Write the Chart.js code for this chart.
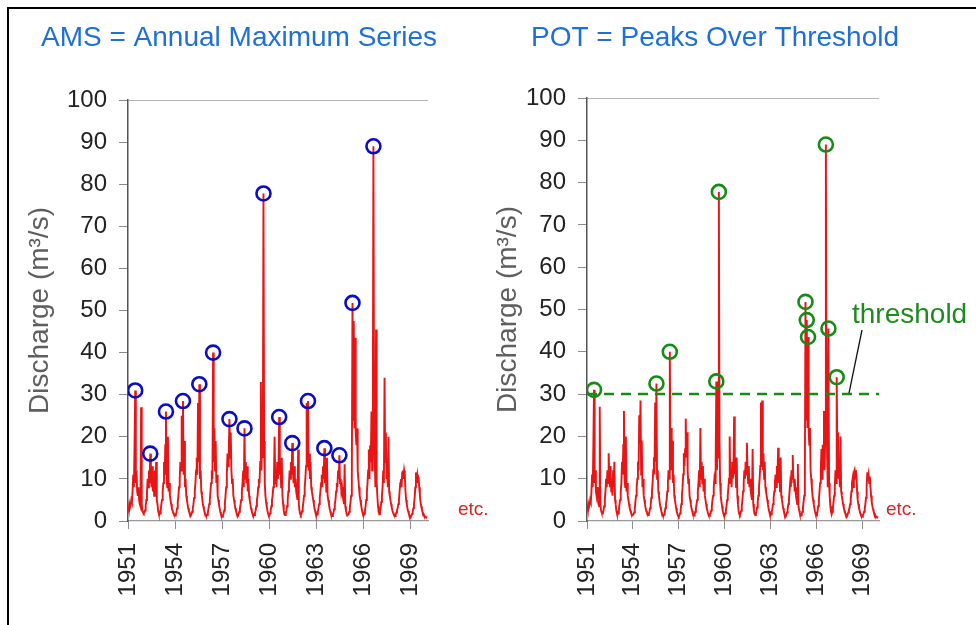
<!DOCTYPE html>
<html>
<head>
<meta charset="utf-8">
<script src="https://cdn.jsdelivr.net/npm/chart.js@4.4.1/dist/chart.umd.min.js"></script>
<style>
  html, body { margin: 0; padding: 0; background: #fff; overflow: hidden; }
  #wrap { position: relative; width: 976px; height: 625px; overflow: hidden; }
  #frame { position: absolute; left: 7px; top: 7px; width: 1000px; height: 1000px;
           border-left: 2.5px solid #000; border-top: 2.5px solid #000; }
  canvas { position: absolute; top: 0; }
  #ams { left: 0; }
  #pot { left: 488px; }
</style>
</head>
<body>
<div id="wrap">
  <div id="frame"></div>
  <canvas id="ams" width="488" height="625"></canvas>
  <canvas id="pot" width="488" height="625"></canvas>
</div>
<script>
const flow1951 = [3.5, 2.8, 4, 3.2, 3.8, 5, 4.5, 7, 11, 8, 18, 31, 9, 12, 7, 6, 8, 5, 4, 3.5, 27, 4, 2.5, 2];
const flow1952 = [1.8, 2, 2.5, 3.5, 5, 7, 10, 8, 12, 9, 16, 11, 8, 13, 7, 10, 6, 12, 8, 14, 5, 4, 2.5, 1.8];
const flow1953 = [1.5, 1.8, 2.5, 4, 5, 7, 9, 14, 11, 18, 26, 10, 8, 20, 7, 9, 6, 5, 4, 3, 2.5, 2, 1.6, 1.3];
const flow1954 = [1.3, 1.6, 2, 3, 4.5, 6, 8, 10, 14, 12, 25, 18, 28.5, 11, 19, 8, 10, 6, 5, 4, 3, 2.4, 2, 1.5];
const flow1955 = [1.4, 1.7, 2.2, 3, 4, 5.5, 7, 9, 12, 15, 11, 28, 14, 32.5, 10, 12, 7, 6, 4.5, 3.5, 2.8, 2.2, 1.7, 1.3];
const flow1956 = [1.2, 1.5, 2, 3, 4, 5, 7, 9, 12, 10, 40, 14, 22, 12, 19, 9, 11, 6, 5, 4, 3, 2.2, 1.6, 1.2];
const flow1957 = [1, 1.3, 1.8, 2.5, 4, 6, 8, 11, 16, 13, 17, 24.2, 15, 21, 12, 9, 10, 6, 5, 4, 3, 2.4, 1.8, 1.4];
const flow1958 = [1.3, 1.6, 2.2, 3, 4, 5, 7, 9, 12, 8, 22, 10, 14, 9, 13, 7, 10, 6, 5, 4, 3, 2.4, 1.8, 1.4];
const flow1959 = [1.2, 1.4, 1.8, 2.5, 3.5, 5, 6, 8, 10, 9, 14, 33, 12, 20, 15, 77.8, 19, 9, 6, 4.5, 3.5, 2.5, 1.8, 1.3];
const flow1960 = [1.3, 1.8, 2.5, 3.5, 5, 6, 8, 10, 20, 9, 12, 8, 14, 10, 13, 24.7, 11, 14, 8, 15, 6, 4, 2.5, 1.6];
const flow1961 = [1.4, 1.8, 2.4, 3.5, 5, 7, 9, 12, 10, 14, 11, 18.5, 12, 9, 13, 8, 10, 7, 6, 5, 17, 4, 2.5, 1.7];
const flow1962 = [1.4, 1.7, 2.3, 3.2, 4.5, 6, 8, 10, 13, 28, 15, 28.5, 12, 16, 10, 14, 8, 7, 6, 5, 4, 3, 2.3, 1.6];
const flow1963 = [1.3, 1.6, 2.1, 3, 4, 5.5, 7, 9, 11, 8, 13, 10, 17.3, 9, 14, 7, 15, 6, 5, 4, 3, 2.3, 1.7, 1.3];
const flow1964 = [1.2, 1.5, 2, 2.8, 4, 5, 7, 9, 8, 12, 10, 15.6, 9, 10, 7, 8, 6, 5, 4, 13.5, 3.5, 2.5, 1.8, 1.3];
const flow1965 = [1.3, 1.6, 2.2, 3.2, 4.5, 6, 10, 51.8, 24, 47.5, 22, 43.5, 21, 18, 22, 12, 10, 8, 6, 5, 4, 3, 2.2, 1.6];
const flow1966 = [1.3, 1.7, 2.4, 3.5, 5, 7, 9, 12, 17, 10, 18, 14, 26, 12, 20, 89, 28, 15, 8, 45.5, 9, 6, 3.5, 2.2];
const flow1967 = [1.6, 2.2, 3, 4.5, 6, 8, 12, 9, 34, 14, 21, 10, 12, 8, 20, 7, 6, 5, 4, 3.2, 2.5, 2, 1.6, 1.3];
const flow1968 = [1.2, 1.5, 2, 2.5, 3, 4, 5, 7, 9, 10, 8, 11.5, 12, 10, 12, 11, 7, 5, 4, 3, 2.4, 1.8, 1.4, 1.1];
const flow1969 = [1, 1.3, 1.7, 2.2, 3, 4, 5.5, 8, 11.5, 10, 11, 9, 10.5, 8, 6, 4.5, 3.5, 2.8, 2.2, 1.8, 1.4, 1.2, 1, 0.9];
const flow1970 = [0.9, 0.8, 0.8];

const yearTicks = [1951, 1954, 1957, 1960, 1963, 1966, 1969];
const amsYears = [1951, 1952, 1953, 1954, 1955, 1956, 1957, 1958, 1959, 1960, 1961, 1962, 1963, 1964, 1965, 1966];
const threshold = 30;

const panelTitles = ['AMS = Annual Maximum Series', 'POT = Peaks Over Threshold'];
const yTitle = 'Discharge (m³/s)';
const etcLabel = 'etc.';
const thresholdLabel = 'threshold';

const firstYear = 1951;
const xMax = 1970.1;
const stepsPerYear = 24;
const fontFamily = '"Liberation Sans", Arial, Helvetica, sans-serif';
Chart.defaults.font.family = fontFamily;

const flowByYear = [flow1951, flow1952, flow1953, flow1954, flow1955, flow1956, flow1957, flow1958, flow1959,
  flow1960, flow1961, flow1962, flow1963, flow1964, flow1965, flow1966, flow1967, flow1968, flow1969, flow1970];

const flow = [];
flowByYear.forEach((vals, n) => {
  vals.forEach((v, i) => flow.push({ x: firstYear + n + i / stepsPerYear, y: v }));
});

// largest value in each year
const ams = amsYears.map(yr => {
  const vals = flowByYear[yr - firstYear];
  const i = vals.indexOf(Math.max(...vals));
  return { x: yr + i / stepsPerYear, y: vals[i] };
});

// every separate peak above the threshold
const pot = flow.filter((p, k) =>
  k > 0 && k < flow.length - 1 && p.y > threshold && p.y > flow[k - 1].y && p.y > flow[k + 1].y);

// titles, "etc." and the threshold note
const panelText = {
  id: 'panelText',
  afterDraw(chart, args, o) {
    const ctx = chart.ctx;
    const area = chart.chartArea;
    ctx.save();
    ctx.textBaseline = 'alphabetic';
    ctx.textAlign = 'left';
    ctx.fillStyle = '#1f6fd6';
    ctx.font = '28px ' + fontFamily;
    ctx.fillText(o.title, o.titleX, 46);

    ctx.fillStyle = '#d8232a';
    ctx.font = '19px ' + fontFamily;
    ctx.fillText(etcLabel, area.right + o.etcGap, 515);

    if (o.showThreshold) {
      const yPix = chart.scales.y.getPixelForValue(threshold);
      ctx.strokeStyle = '#111';
      ctx.lineWidth = 1.3;
      ctx.beginPath();
      ctx.moveTo(374, 330);
      ctx.lineTo(361, yPix - 1);
      ctx.stroke();
      ctx.fillStyle = '#1f8a1f';
      ctx.font = '28px ' + fontFamily;
      ctx.fillText(thresholdLabel, 364, 323);
    }
    ctx.restore();
  }
};

function flowSet() {
  return { data: flow, borderColor: 'rgb(235,20,20)', borderWidth: 1.9, pointRadius: 0, tension: 0, order: 2 };
}

function circleSet(data, color) {
  return { data, showLine: false, pointRadius: 7, pointHoverRadius: 7, pointBorderWidth: 2.6,
    pointBorderColor: color, pointBackgroundColor: 'rgba(0,0,0,0)', order: 0 };
}

function panelOptions(p) {
  return {
    responsive: false,
    animation: false,
    events: [],
    layout: { padding: { left: p.padLeft, top: p.padTop, right: p.padRight, bottom: 0 } },
    plugins: {
      legend: { display: false },
      title: { display: false },
      tooltip: { enabled: false },
      panelText: p.text
    },
    scales: {
      x: {
        type: 'linear',
        min: firstYear,
        max: xMax,
        afterBuildTicks: s => { s.ticks = yearTicks.map(v => ({ value: v })); },
        afterFit: s => { s.height = 104; },
        grid: { color: 'rgba(0,0,0,0)', tickColor: '#8c8c8c', tickLength: 8, drawOnChartArea: false },
        border: { color: '#9a9a9a', width: 1.2 },
        ticks: { autoSkip: false, minRotation: 90, maxRotation: 90, padding: 14, color: '#222',
          font: { size: 24 }, callback: v => String(v) }
      },
      y: {
        min: 0,
        max: 100,
        afterFit: s => { s.width = p.yWidth; },
        grid: { color: c => (c.tick && c.tick.value === 100 ? '#b4b4b4' : 'rgba(0,0,0,0)'),
          tickColor: '#8c8c8c', tickLength: 9 },
        border: { color: '#555', width: 1.5 },
        ticks: { stepSize: 10, padding: 12, color: '#222', font: { size: 24 } },
        title: { display: true, text: yTitle, color: '#5f5f5f', font: { size: 28 },
          padding: { top: p.titlePad, bottom: 0 } }
      }
    }
  };
}

new Chart(document.getElementById('ams'), {
  type: 'line',
  data: { datasets: [circleSet(ams, '#0c0cc4'), flowSet()] },
  options: panelOptions({ padLeft: 12, padTop: 100, padRight: 60, yWidth: 116, titlePad: 11.2,
    text: { title: panelTitles[0], titleX: 41, etcGap: 30, showThreshold: false } }),
  plugins: [panelText]
});

new Chart(document.getElementById('pot'), {
  type: 'line',
  data: {
    datasets: [
      circleSet(pot, '#178a17'),
      { data: [{ x: firstYear, y: threshold }, { x: xMax, y: threshold }], borderColor: '#178a17',
        borderWidth: 2.5, borderDash: [10, 7], pointRadius: 0, order: 1 },
      flowSet()
    ]
  },
  options: panelOptions({ padLeft: 0, padTop: 98, padRight: 97, yWidth: 99, titlePad: 3.2,
    text: { title: panelTitles[1], titleX: 43, etcGap: 7, showThreshold: true } }),
  plugins: [panelText]
});
</script>
</body>
</html>
